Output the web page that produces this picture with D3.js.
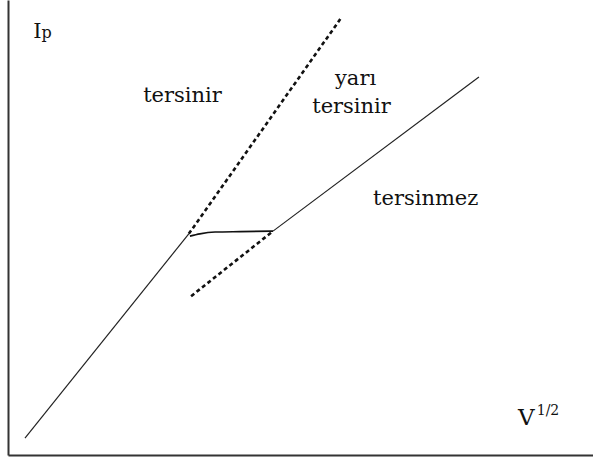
<!DOCTYPE html>
<html>
<head>
<meta charset="utf-8">
<script src="https://cdn.jsdelivr.net/npm/d3@7"></script>
<style>
  body { margin: 0; background: #fff; }
</style>
</head>
<body>
<svg id="chart" width="593" height="457"></svg>
<script>
// V^1/2 (x) vs Ip (y), arbitrary units
var reversibleLine = [[0.29, 0.37], [3.09, 4.86]];
var reversibleDashed = [[3.09, 4.86], [5.68, 9.58]];
var quasiCurve = [[3.11, 4.81], [3.28, 4.86], [3.54, 4.90], [3.97, 4.91], [4.53, 4.92]];
var irreversibleDashed = [[3.13, 3.49], [4.53, 4.92]];
var irreversibleLine = [[4.53, 4.92], [8.05, 8.31]];

var regionLabels = ["tersinir", "yarı", "tersinir", "tersinmez"];
var regionLabelPos = [[2.31, 7.76], [5.59, 8.13], [5.20, 7.52], [6.24, 5.49]];

var font = "'DejaVu Serif', 'Liberation Serif', serif";

var svg = d3.select("#chart");

var x = d3.scaleLinear().domain([0, 10]).range([8, 593]);
var y = d3.scaleLinear().domain([0, 10]).range([455, 0]);

// axes, bare lines only
svg.append("g")
    .attr("transform", "translate(8,0)")
    .call(d3.axisLeft(y).tickValues([]).tickSizeOuter(0))
    .select(".domain").attr("stroke", "#333").attr("stroke-width", 2);
svg.append("g")
    .attr("transform", "translate(0,455)")
    .call(d3.axisBottom(x).tickValues([]).tickSizeOuter(0))
    .select(".domain").attr("stroke", "#333").attr("stroke-width", 2);

var line = d3.line().x(d => x(d[0])).y(d => y(d[1]));
var curve = d3.line().x(d => x(d[0])).y(d => y(d[1])).curve(d3.curveMonotoneX);

svg.selectAll("path.solid").data([reversibleLine, irreversibleLine])
    .join("path")
    .attr("class", "solid")
    .attr("d", line)
    .attr("fill", "none")
    .attr("stroke", "#222")
    .attr("stroke-width", 1.2);

svg.selectAll("path.dashed").data([reversibleDashed, irreversibleDashed])
    .join("path")
    .attr("class", "dashed")
    .attr("d", line)
    .attr("fill", "none")
    .attr("stroke", "#111")
    .attr("stroke-width", 2.6)
    .attr("stroke-dasharray", "4,3");

svg.append("path")
    .datum(quasiCurve)
    .attr("d", curve)
    .attr("fill", "none")
    .attr("stroke", "#111")
    .attr("stroke-width", 1.6);

// region labels
svg.selectAll("text.region").data(regionLabels)
    .join("text")
    .attr("class", "region")
    .attr("x", (d, i) => x(regionLabelPos[i][0]))
    .attr("y", (d, i) => y(regionLabelPos[i][1]))
    .attr("font-family", font)
    .attr("font-size", 21)
    .attr("fill", "#111")
    .text(d => d);

// axis titles
var ip = svg.append("text")
    .attr("x", x(0.43))
    .attr("y", y(9.16))
    .attr("font-family", font)
    .attr("font-size", 21)
    .attr("fill", "#111");
ip.append("tspan").text("I");
ip.append("tspan").attr("font-size", 16).text("p");

var v = svg.append("text")
    .attr("x", x(8.72))
    .attr("y", y(0.66))
    .attr("font-family", font)
    .attr("font-size", 23)
    .attr("fill", "#111");
v.append("tspan").text("V");
v.append("tspan").attr("dx", 2).attr("dy", -10).attr("font-size", 14).text("1/2");
</script>
</body>
</html>
